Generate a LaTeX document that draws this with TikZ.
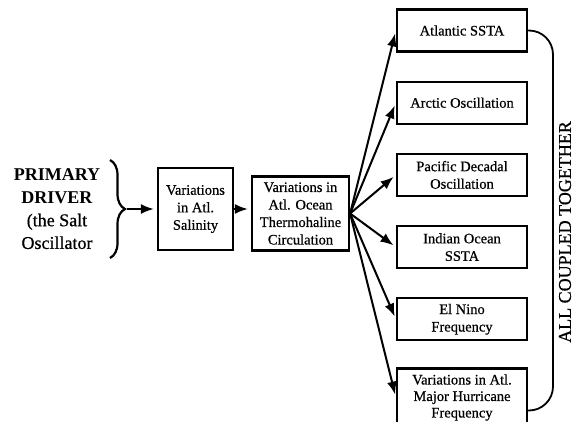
\documentclass[tikz,border=0pt]{standalone}
\usepackage{fontspec}
\setmainfont{Liberation Serif}[UprightFeatures={FakeBold=0.6}]
\usetikzlibrary{arrows.meta,positioning,decorations.pathreplacing}

\begin{document}
\begin{tikzpicture}[
  x=1pt,y=-1pt,
  node distance=28pt and 19pt,
  box/.style={draw,line width=2.2pt,align=center,inner sep=2pt,font={\fontsize{14.5}{17.5}\selectfont}},
  rbox/.style={box,minimum width=130pt,minimum height=42pt},
  arr/.style={-{Latex[length=13pt,width=10pt]},line width=2pt,shorten >=3pt},
  link/.style={line width=1.8pt,rounded corners=24pt}
]
\useasboundingbox (0,0) rectangle (576,421);
\node[align=center,font={\fontsize{18}{22.7}\selectfont}] (drv) at (57,209) {\textbf{PRIMARY}\\\textbf{DRIVER}\\(the Salt\\Oscillator};
\draw[line width=2.2pt,decorate,decoration={brace,amplitude=15pt}] (110,160) -- (110,258);
\coordinate (tip) at (127,209);
\node[box,minimum width=75pt,minimum height=82pt] (sal) at (195.5,209) {Variations\\in Atl.\\Salinity};
\node[box,minimum width=97pt,minimum height=74pt] (thc) at (300.5,213.5) {Variations in\\Atl. Ocean\\Thermohaline\\Circulation};
\node[rbox] (atl) at (462,30.5) {Atlantic SSTA};
\node[rbox,below=of atl] (arc) {Arctic Oscillation};
\node[rbox,below=of arc] (pac) {Pacific Decadal\\Oscillation};
\node[rbox,below=of pac] (ind) {Indian Ocean\\SSTA};
\node[rbox,below=of ind] (eln) {El Nino\\Frequency};
\node[rbox,below=of eln,yshift=2pt,minimum height=58pt,font={\fontsize{14.5}{16.5}\selectfont}] (hur) {Variations in Atl.\\Major Hurricane\\Frequency};
\node[rotate=90,font={\fontsize{18}{20}\selectfont}] (all) at (565,232) {ALL COUPLED TOGETHER};
\coordinate (rail) at (553,0);
\coordinate (hend) at ([yshift=-13pt]hur.east);
\draw[arr] (tip) -- (sal.west);
\draw[arr] (sal) -- (sal -| thc.west);
\draw[arr] (thc.east) -- (atl.west);
\draw[arr] (thc.east) -- (arc.west);
\draw[arr] (thc.east) -- (pac.west);
\draw[arr] (thc.east) -- (ind.west);
\draw[arr] (thc.east) -- (eln.west);
\draw[arr] (thc.east) -- (hur.west);
\draw[link] (atl.east) -| (rail |- hend) -- (hend);
\end{tikzpicture}
\end{document}
